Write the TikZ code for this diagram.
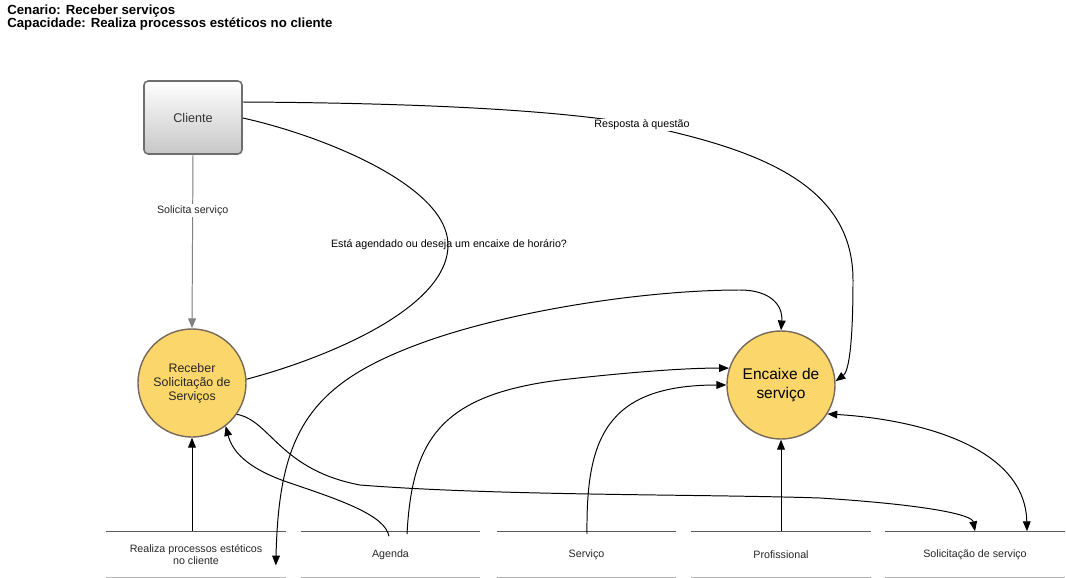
\documentclass[tikz,border=0pt]{standalone}
\usepackage{fontspec}
\setmainfont{Liberation Sans}
\usetikzlibrary{arrows.meta,calc}
\definecolor{procfill}{HTML}{FAD66B}
\definecolor{procline}{HTML}{76695A}
\definecolor{boxline}{HTML}{6E6E6E}
\definecolor{storedark}{HTML}{5A5A5A}
\definecolor{storelight}{HTML}{B4B4B4}
\tikzset{
  proc/.style={circle, draw=procline, line width=1pt, fill=procfill,
    minimum size=2.7cm, inner sep=0pt, align=center},
  ext/.style={rectangle, rounded corners=3pt, draw=boxline, line width=1.1pt,
    top color=white, bottom color=black!22, minimum width=2.45cm,
    minimum height=1.825cm, font=\fontsize{9}{11}\selectfont, text=black!80},
  store/.style={minimum width=4.475cm, minimum height=1.15cm, inner sep=0pt,
    align=center, font=\fontsize{7.6}{9}\selectfont, text=black!85},
  storetop/.style={draw=storedark, line width=0.6pt},
  storebot/.style={draw=storelight, line width=1.3pt},
  lbl/.style={font=\fontsize{7.6}{9}\selectfont, fill=white, inner sep=1pt},
  lblplain/.style={font=\fontsize{7.6}{9}\selectfont, inner sep=1pt},
  link/.style={line width=0.7pt},
  flow/.style={line width=0.7pt, -{Triangle[length=7pt,width=5.5pt]}},
  flowboth/.style={line width=0.7pt,
    {Triangle[length=7pt,width=5.5pt]}-{Triangle[length=7pt,width=5.5pt]}}
}
\begin{document}
\begin{tikzpicture}[x=0.025cm, y=-0.025cm]
  \useasboundingbox (0,0) rectangle (1066,578);
  % titulo
  \node[anchor=north west, align=left, inner sep=0pt,
    font=\fontsize{9.4}{9.3}\selectfont\bfseries] (titulo) at (7,4.5)
    {Cenario: Receber serviços\\Capacidade: Realiza processos estéticos no cliente};
  % entidade externa e processos
  \node[ext] (cliente) at (193,117.5) {Cliente};
  \node[proc, font=\fontsize{8.8}{10}\selectfont, text=black!85] (receber) at (192,383)
    {Receber\\Solicitação de\\Serviços};
  \node[proc, font=\fontsize{11}{13}\selectfont] (encaixe) at (781,385)
    {Encaixe de\\serviço};
  % depositos de dados
  \node[store] (realiza) at (196,554.5) {Realiza processos estéticos\\no cliente};
  \node[store] (agenda) at (390.5,554.5) {Agenda};
  \node[store] (servico) at (586.5,554.5) {Serviço};
  \node[store] (profissional) at (781,554.5) {Profissional};
  \node[store] (solicitacao) at (975,554.5) {Solicitação de serviço};
  \draw[storetop] (realiza.north west) -- (realiza.north east);
  \draw[storebot] (realiza.south west) -- (realiza.south east);
  \draw[storetop] (agenda.north west) -- (agenda.north east);
  \draw[storebot] (agenda.south west) -- (agenda.south east);
  \draw[storetop] (servico.north west) -- (servico.north east);
  \draw[storebot] (servico.south west) -- (servico.south east);
  \draw[storetop] (profissional.north west) -- (profissional.north east);
  \draw[storebot] (profissional.south west) -- (profissional.south east);
  \draw[storetop] (solicitacao.north west) -- (solicitacao.north east);
  \draw[storebot] (solicitacao.south west) -- (solicitacao.south east);
  % fluxos
  \draw[flow, draw=black!50, fill=black!50] (cliente.south) -- (receber.north)
    node[lbl, pos=0.32, text=black!85] (lsolicita) {Solicita serviço};
  \draw[flow] ($(cliente.east)+(0,-15.5)$)
    .. controls (420,103) and (560,110) .. (642,125)
    node[lbl] (lresposta) {Resposta à questão}
    .. controls (760,150) and (853,185) .. (853,280)
    .. controls (853,350) and (848,372) .. (encaixe.4);
  \draw[link] ($(cliente.east)+(0,0.5)$)
    .. controls (320,135) and (448,185) .. (448,245)
    .. controls (448,310) and (320,360) .. (receber.4);
  \node[lblplain] (lagendado) at (449,245) {Está agendado ou deseja um encaixe de horário?};
  \draw[flowboth] ($(realiza.east)+(-10,11)$)
    .. controls (279,430) and (310,382) .. (430,340)
    .. controls (520,309) and (650,290) .. (740,290)
    .. controls (770,290) and (783,305) .. (encaixe.north);
  \draw[flow] (receber.-35)
    .. controls (270,420) and (280,470) .. (360,485)
    .. controls (500,496) and (700,494) .. (820,498)
    .. controls (930,505) and (972,515) .. (solicitacao.north);
  \draw[flow] ($(agenda.north)+(-1.5,5)$)
    .. controls (385,515) and (340,500) .. (290,483)
    .. controls (245,468) and (232,450) .. (receber.-52);
  \draw[flow] ($(agenda.north)+(16.5,3)$)
    .. controls (412,440) and (440,395) .. (560,380)
    .. controls (640,371) and (690,368) .. (encaixe.162);
  \draw[flow] ($(servico.north)+(0.5,3)$)
    .. controls (586,440) and (605,385) .. (encaixe.180);
  \draw[flow] (profissional.north) -- (encaixe.south);
  \draw[flow] (receber.south |- realiza.north) -- (receber.south);
  \draw[flowboth] (encaixe.-32)
    .. controls (900,418) and (1025,440) .. ($(solicitacao.north)+(52,0)$);
\end{tikzpicture}
\end{document}
